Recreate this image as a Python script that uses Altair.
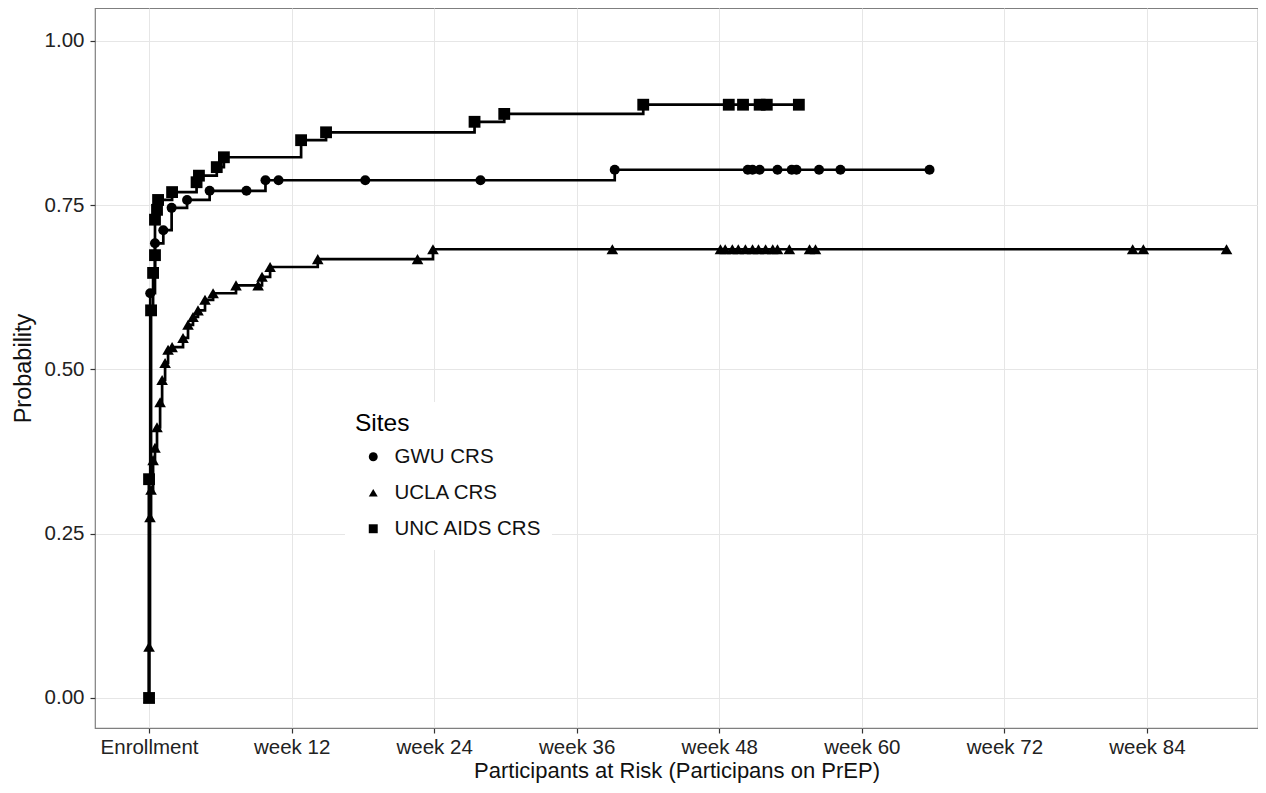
import altair as alt
import pandas as pd

sites = ["GWU CRS", "UCLA CRS", "UNC AIDS CRS"]
shapes = ["circle", "triangle-up", "square"]
marker_sizes = [100, 135, 140]

gwu_week = [0, 0, 0.1, 0.5, 1.2, 1.9, 3.2, 5.1, 8.2, 9.8, 10.9, 18.2, 27.9, 39.2,
            50.4, 50.8, 51.4, 52.9, 54.1, 54.5, 56.4, 58.2, 65.7]
gwu_prob = [0, 0.332, 0.616, 0.692, 0.712, 0.746, 0.758, 0.772, 0.772, 0.788, 0.788, 0.788, 0.788, 0.804,
            0.804, 0.804, 0.804, 0.804, 0.804, 0.804, 0.804, 0.804, 0.804]

ucla_week = [0, 0, 0.08, 0.17, 0.34, 0.5, 0.67, 0.93, 1.1, 1.35, 1.6, 1.94, 2.86, 3.28, 3.7, 4.12,
             4.71, 5.39, 7.32, 9.18, 9.51, 10.19, 14.2, 22.6, 23.9, 39.0,
             48.1, 48.5, 49.1, 49.6, 50.2, 50.8, 51.3, 51.9, 52.5, 52.9, 53.9, 55.6, 56.1,
             82.8, 83.7, 90.7]
ucla_prob = [0, 0.078, 0.275, 0.317, 0.362, 0.381, 0.412, 0.45, 0.484, 0.51, 0.53, 0.534, 0.548, 0.568, 0.58, 0.59,
             0.606, 0.616, 0.628, 0.628, 0.641, 0.656, 0.668, 0.668, 0.683, 0.683,
             0.683, 0.683, 0.683, 0.683, 0.683, 0.683, 0.683, 0.683, 0.683, 0.683, 0.683, 0.683, 0.683,
             0.683, 0.683, 0.683]

unc_week = [0, 0, 0.17, 0.34, 0.5, 0.5, 0.67, 0.76, 1.94, 4.0, 4.2, 5.7, 6.3, 12.8, 14.9, 27.4, 29.9, 41.6,
            48.8, 50.0, 51.4, 52.0, 54.7]
unc_prob = [0, 0.333, 0.59, 0.647, 0.674, 0.728, 0.743, 0.758, 0.770, 0.785, 0.795, 0.808, 0.823, 0.849,
            0.861, 0.877, 0.889, 0.903, 0.903, 0.903, 0.903, 0.903, 0.903]

tick_values = [0, 12, 24, 36, 48, 60, 72, 84]
tick_labels = ["Enrollment", "week 12", "week 24", "week 36", "week 48", "week 60", "week 72", "week 84"]
y_ticks = [0, 0.25, 0.5, 0.75, 1.0]

rows = []
for site, wk, pr in [(sites[0], gwu_week, gwu_prob), (sites[1], ucla_week, ucla_prob), (sites[2], unc_week, unc_prob)]:
    for i, (w, p) in enumerate(zip(wk, pr)):
        rows.append({"site": site, "week": w, "prob": p, "order": i})
df = pd.DataFrame(rows)

label_expr = " : ".join(
    [f"datum.value == {v} ? '{l}'" for v, l in zip(tick_values, tick_labels)]
) + " : ''"

FONT = "Liberation Sans"

x = alt.X("week:Q", scale=alt.Scale(domain=[-4.55, 93.35], nice=False, zero=False),
          axis=alt.Axis(values=tick_values, labelExpr=label_expr,
                        title="Participants at Risk (Participans on PrEP)",
                        titleFontSize=22, titlePadding=3, labelPadding=4))
y = alt.Y("prob:Q", scale=alt.Scale(domain=[-0.0457, 1.0502], nice=False),
          axis=alt.Axis(values=y_ticks, format=".2f", title="Probability",
                        titleFontSize=23.5, titlePadding=9, labelPadding=6))

shape_enc = alt.Shape("site:N", scale=alt.Scale(domain=sites, range=shapes),
                      legend=alt.Legend(title="Sites", orient="none", legendX=250, legendY=394,
                                        fillColor="white", padding=10, titleFontSize=24.5,
                                        titleFontWeight="normal", titleFont=FONT, titleColor="#000",
                                        labelFont=FONT, labelFontSize=20.5, labelColor="#111",
                                        symbolSize=80, symbolFillColor="black", symbolStrokeWidth=0,
                                        symbolOffset=8, labelOffset=11, rowPadding=15,
                                        titlePadding=10))

lines = alt.Chart(df).mark_line(interpolate="step-after", color="black", strokeWidth=2.7).encode(
    x=x, y=y, detail="site:N", order="order:Q")

point_layers = []
for site, sz in zip(sites, marker_sizes):
    point_layers.append(
        alt.Chart(df).transform_filter(alt.datum.site == site)
        .mark_point(filled=True, color="black", opacity=1, size=sz)
        .encode(x=x, y=y, shape=shape_enc)
    )

chart = alt.layer(lines, *point_layers).properties(
    width=1163, height=720,
    autosize=alt.AutoSizeParams(type="none"),
    padding={"left": 87, "top": 0, "right": 0, "bottom": 57},
).configure_view(stroke="#7f7f7f", strokeWidth=1.2).configure_axis(
    grid=True, gridColor="#e6e6e6", gridWidth=1, domain=False,
    tickColor="#333", tickSize=5, tickWidth=1.2,
    labelFont=FONT, labelFontSize=20.5, labelColor="#222",
    titleFont=FONT, titleFontWeight="normal", titleColor="#111",
)

chart.save("out.html", embed_options={"renderer": "svg", "actions": False})
